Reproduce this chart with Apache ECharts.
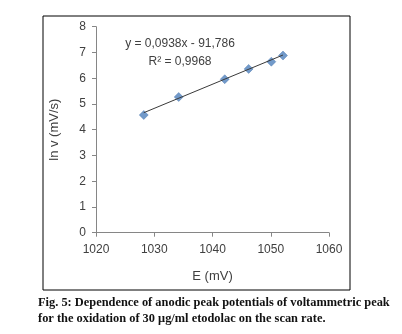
<!DOCTYPE html>
<html><head><meta charset="utf-8">
<script src="https://cdn.jsdelivr.net/npm/echarts@6/dist/echarts.min.js"></script>
<style>html,body{margin:0;padding:0;background:#fff}#c{width:402px;height:334px}</style>
</head><body><div id="c"></div>
<script>
const potentialE = [1028.2, 1034.2, 1042.1, 1046.2, 1050.1, 1052.1];
const lnV = [4.57, 5.27, 5.96, 6.36, 6.64, 6.88];
const trendE = [1028.2, 1052.1];
const trendLnV = [4.66, 6.90];
const xTicks = [1020, 1030, 1040, 1050, 1060];
const yTicks = [0, 1, 2, 3, 4, 5, 6, 7, 8];
const equationText = 'y = 0,0938x - 91,786';
const r2Text = 'R² = 0,9968';
const xTitle = 'E (mV)';
const yTitle = 'ln v (mV/s)';
const captionLines = ['Fig. 5: Dependence of anodic peak potentials of voltammetric peak', 'for the oxidation of 30 μg/ml etodolac on the scan rate.'];

const chart = echarts.init(document.getElementById('c'), null, {renderer: 'canvas'});
const axisCol = '#868686';
const labCol = '#404040';
const font = 'Liberation Sans';
chart.setOption({
  animation: false,
  backgroundColor: '#fff',
  grid: {left: 96, right: 73, top: 26.7, bottom: 101.3},
  xAxis: {
    type: 'value', min: xTicks[0], max: xTicks[xTicks.length - 1], interval: 10,
    axisLine: {show: true, lineStyle: {color: axisCol}},
    axisTick: {show: true, length: 4, lineStyle: {color: axisCol}},
    splitLine: {show: false},
    axisLabel: {color: labCol, fontSize: 12, fontFamily: font, margin: 11, formatter: v => String(v)},
    name: xTitle, nameLocation: 'middle', nameGap: 37,
    nameTextStyle: {color: labCol, fontSize: 13, fontFamily: font}
  },
  yAxis: {
    type: 'value', min: yTicks[0], max: yTicks[yTicks.length - 1], interval: 1,
    axisLine: {show: true, lineStyle: {color: axisCol}},
    axisTick: {show: true, length: 4, lineStyle: {color: axisCol}},
    splitLine: {show: false},
    axisLabel: {color: labCol, fontSize: 12, fontFamily: font, margin: 10, formatter: v => String(v)},
    name: yTitle, nameLocation: 'middle', nameGap: 35, nameRotate: 90,
    nameTextStyle: {color: labCol, fontSize: 13, fontFamily: font}
  },
  series: [
    {
      type: 'line', data: trendE.map((e, i) => [e, trendLnV[i]]),
      showSymbol: false, symbol: 'none',
      lineStyle: {color: '#3a3a3a', width: 1}, z: 3
    },
    {
      type: 'scatter', data: potentialE.map((e, i) => [e, lnV[i]]),
      symbol: 'diamond', symbolSize: 9,
      itemStyle: {color: '#4F81BD', borderColor: '#3e6fa8', borderWidth: 0.5}, z: 2
    }
  ],
  graphic: [
    {type: 'rect', shape: {x: 43, y: 16, width: 307, height: 274}, style: {fill: 'none', stroke: '#000', lineWidth: 1}, silent: true},
    {type: 'text', x: 180, y: 44, style: {text: equationText, fill: labCol, font: '12px "Liberation Sans"', textAlign: 'center', textVerticalAlign: 'middle'}},
    {type: 'text', x: 180, y: 62, style: {text: r2Text, fill: labCol, font: '12px "Liberation Sans"', textAlign: 'center', textVerticalAlign: 'middle'}},
    {type: 'text', x: 38, y: 303, style: {text: captionLines[0], fill: '#111', font: 'bold 12.4px "Liberation Serif"', textAlign: 'left', textVerticalAlign: 'middle'}},
    {type: 'text', x: 38, y: 319, style: {text: captionLines[1], fill: '#111', font: 'bold 12.4px "Liberation Serif"', textAlign: 'left', textVerticalAlign: 'middle'}}
  ]
});
</script>
</body></html>
